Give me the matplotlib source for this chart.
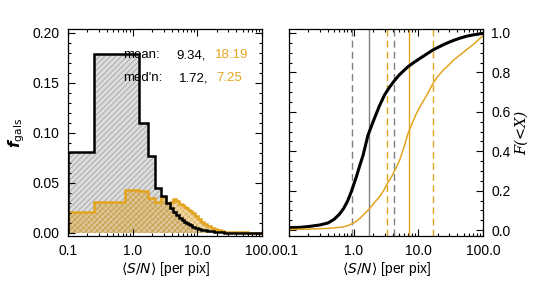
import numpy as np
import matplotlib
matplotlib.use("Agg")
import matplotlib.pyplot as plt
from matplotlib.ticker import AutoMinorLocator, FixedLocator, LogLocator, NullFormatter

plt.rcParams['font.family'] = ['Liberation Sans', 'DejaVu Sans']
plt.rcParams['hatch.linewidth'] = 0.5

GOLD = '#e3a41f'

# histogram step edges (S/N per pix) and fractions
edges = [0.1, 0.25, 0.75, 1.25, 1.75, 2.25, 2.75, 3.25, 3.75, 4.25, 4.75, 5.25,
         5.75, 6.25, 6.75, 7.25, 7.75, 8.25, 9.25, 10.25, 11.25, 12.75, 14.25,
         16.25, 18.25, 20.25, 23.25, 26.25, 30.25, 35.25, 40.25, 50.25, 60.25,
         75.25, 100.0]
f_black = [0.081, 0.179, 0.179, 0.110, 0.077, 0.045, 0.037, 0.030, 0.025, 0.021,
           0.018, 0.015, 0.013, 0.011, 0.010, 0.009, 0.008, 0.0065, 0.0055, 0.0045,
           0.0035, 0.0028, 0.0022, 0.0016, 0.0012, 0.0009, 0.0006, 0.0004, 0.0002,
           0.0001, 0.0, 0.0, 0.0, 0.0]
f_gold = [0.021, 0.031, 0.043, 0.042, 0.035, 0.031, 0.036, 0.030, 0.031, 0.034,
          0.032, 0.029, 0.028, 0.026, 0.025, 0.023, 0.022, 0.020, 0.017, 0.014,
          0.011, 0.009, 0.007, 0.0055, 0.004, 0.003, 0.002, 0.0015, 0.0012,
          0.001, 0.0008, 0.0006, 0.0005, 0.0004]

# cumulative curves
cdf_x_black = [0.1, 0.15, 0.2, 0.3, 0.4, 0.5, 0.6, 0.7, 0.8, 0.92, 1.1, 1.25,
               1.4, 1.66, 2.0, 2.5, 3.0, 3.5, 4.2, 5.0, 6.0, 7.0, 8.5, 10.5, 13.0,
               16.9, 22.0, 27.0, 35.0, 43.5, 55.0, 70.0, 100.0]
cdf_black = [0.012, 0.014, 0.018, 0.026, 0.036, 0.055, 0.08, 0.11, 0.145, 0.195,
             0.27, 0.33, 0.38, 0.48, 0.55, 0.63, 0.685, 0.72, 0.755, 0.785, 0.81,
             0.83, 0.85, 0.87, 0.89, 0.914, 0.933, 0.947, 0.962, 0.973, 0.983,
             0.99, 0.998]
cdf_x_gold = [0.1, 0.2, 0.3, 0.4, 0.5, 0.684, 0.8, 0.977, 1.1, 1.24, 1.5, 1.77,
              2.1, 2.52, 2.9, 3.3, 3.7, 4.06, 4.6, 5.14, 6.0, 6.92, 8.0, 9.3,
              11.0, 13.3, 16.9, 20.0, 24.0, 29.0, 34.4, 41.0, 49.0, 58.0, 70.0,
              85.0, 100.0]
cdf_gold = [0.003, 0.005, 0.007, 0.009, 0.011, 0.016, 0.022, 0.034, 0.045, 0.059,
            0.085, 0.11, 0.14, 0.17, 0.2, 0.235, 0.26, 0.285, 0.32, 0.355, 0.42,
            0.49, 0.54, 0.59, 0.635, 0.68, 0.745, 0.78, 0.81, 0.835, 0.86, 0.88,
            0.90, 0.92, 0.94, 0.965, 0.985]

# quartiles (25%, median, 75%)
q_black = [0.95, 1.72, 4.2]
q_gold = [3.3, 7.25, 16.8]

mean_black, mean_gold = '9.34,', '18.19'
med_black, med_gold = '1.72,', '7.25'

fig = plt.figure(figsize=(5.38, 2.95), dpi=100)
ax1 = fig.add_axes([68/538, 1-236/295, 194/538, 207/295])
ax2 = fig.add_axes([289/538, 1-236/295, 194/538, 207/295])

xlab = r'$\langle S/N\rangle$ [per pix]'

# left: histograms
ax1.stairs(f_black, edges, fill=True, facecolor='#dcdcdc', edgecolor='#999999',
           hatch='//////', linewidth=0)
ax1.stairs(f_gold, edges, fill=True, facecolor=(0.87, 0.65, 0.20, 0.40),
           edgecolor=(0.80, 0.58, 0.12, 0.6), hatch='xxxxxx', linewidth=0)
ax1.stairs(f_gold, edges, color=GOLD, linewidth=1.8)
ax1.stairs(f_black, edges, color='black', linewidth=1.8)

fs = 9.5
ax1.text(0.283, 0.874, 'mean:', transform=ax1.transAxes, fontsize=fs, va='center')
ax1.text(0.558, 0.874, mean_black, transform=ax1.transAxes, fontsize=fs, va='center')
ax1.text(0.755, 0.874, mean_gold, transform=ax1.transAxes, fontsize=fs, va='center', color=GOLD)
ax1.text(0.283, 0.763, "med'n:", transform=ax1.transAxes, fontsize=fs, va='center')
ax1.text(0.573, 0.763, med_black, transform=ax1.transAxes, fontsize=fs, va='center')
ax1.text(0.765, 0.763, med_gold, transform=ax1.transAxes, fontsize=fs, va='center', color=GOLD)

ax1.set_ylim(-0.003, 0.204)
ax1.set_yticks([0.0, 0.05, 0.10, 0.15, 0.20])
ax1.set_yticklabels(['0.00', '0.05', '0.10', '0.15', '0.20'])
ax1.yaxis.set_minor_locator(AutoMinorLocator(5))
ax1.set_ylabel(r'$\mathbfit{f}_{\rm gals}$', fontsize=11, labelpad=4)

# right: cumulative
for q, ls in zip(q_black, ['--', '-', '--']):
    ax2.axvline(q, color='#808080', linestyle=ls, linewidth=1.0, dashes=(5, 3) if ls == '--' else (None, None))
for q, ls in zip(q_gold, ['--', '-', '--']):
    ax2.axvline(q, color=GOLD, linestyle=ls, linewidth=1.0, dashes=(5, 3) if ls == '--' else (None, None))
ax2.plot(cdf_x_black, cdf_black, color='black', linewidth=2.2)
ax2.plot(cdf_x_gold, cdf_gold, color=GOLD, linewidth=1.1)
ax2.set_ylim(-0.03, 1.02)
ax2.set_yticks([0.0, 0.2, 0.4, 0.6, 0.8, 1.0])
ax2.yaxis.set_minor_locator(AutoMinorLocator(4))
ax2.yaxis.tick_right()
ax2.yaxis.set_label_position('right')
ax2.set_ylabel('F(<X)', fontsize=10.5, style='italic', family='DejaVu Serif', labelpad=3)

for ax in (ax1, ax2):
    ax.set_xscale('log')
    ax.set_xlim(0.1, 100)
    ax.xaxis.set_major_locator(FixedLocator([0.1, 1, 10, 100]))
    ax.set_xticklabels(['0.1', '1.0', '10.0', '100.0'])
    ax.xaxis.set_minor_locator(LogLocator(base=10, subs=np.arange(2, 10)))
    ax.xaxis.set_minor_formatter(NullFormatter())
    ax.set_xlabel(xlab, fontsize=10, labelpad=1)
    ax.tick_params(which='both', direction='in', top=True, bottom=True, left=True, right=True,
                   labelsize=10, width=0.8)
    ax.tick_params(which='major', length=5, pad=6)
    ax.tick_params(which='minor', length=2.5)
    for s in ax.spines.values():
        s.set_linewidth(0.9)
ax2.tick_params(axis='y', labelleft=False, labelright=True)

fig.savefig('out.png', dpi=100)
